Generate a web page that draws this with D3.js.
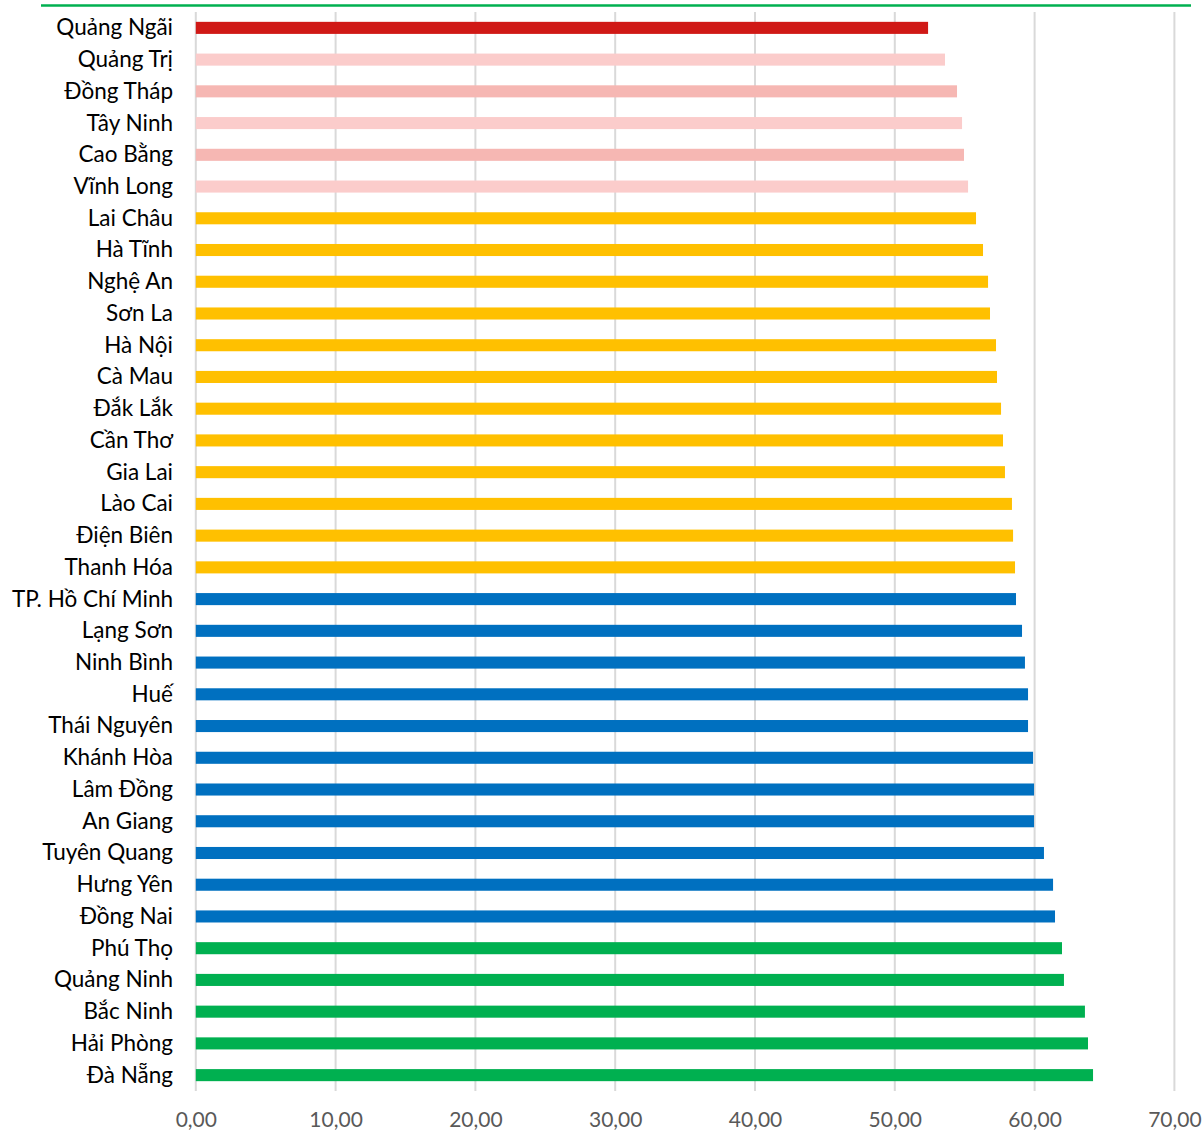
<!DOCTYPE html>
<html><head><meta charset="utf-8">
<script src="https://cdn.jsdelivr.net/npm/d3@7"></script>
<style>body{margin:0;background:#fff}svg{display:block}</style>
</head><body>
<svg id="c" width="1204" height="1131"></svg>
<script>
const categories = ["Quảng Ngãi","Quảng Trị","Đồng Tháp","Tây Ninh","Cao Bằng","Vĩnh Long","Lai Châu","Hà Tĩnh","Nghệ An","Sơn La","Hà Nội","Cà Mau","Đắk Lắk","Cần Thơ","Gia Lai","Lào Cai","Điện Biên","Thanh Hóa","TP. Hồ Chí Minh","Lạng Sơn","Ninh Bình","Huế","Thái Nguyên","Khánh Hòa","Lâm Đồng","An Giang","Tuyên Quang","Hưng Yên","Đồng Nai","Phú Thọ","Quảng Ninh","Bắc Ninh","Hải Phòng","Đà Nẵng"];
const values = [52.38,53.59,54.45,54.81,54.95,55.24,55.81,56.31,56.67,56.81,57.24,57.31,57.60,57.74,57.88,58.38,58.46,58.60,58.67,59.10,59.31,59.53,59.53,59.89,59.96,59.96,60.67,61.32,61.46,61.96,62.10,63.60,63.82,64.18];
const groups = ["red","pinkA","pinkB","pinkA","pinkB","pinkA","yellow","yellow","yellow","yellow","yellow","yellow","yellow","yellow","yellow","yellow","yellow","yellow","blue","blue","blue","blue","blue","blue","blue","blue","blue","blue","blue","green","green","green","green","green"];
const groupColors = {red:"#d01916",pinkA:"#fbcccb",pinkB:"#f6b7b3",yellow:"#ffc000",blue:"#0070c0",green:"#00b050"};
const xTicks = [0,10,20,30,40,50,60,70];

const svg = d3.select("#c");
const x = d3.scaleLinear().domain([0,70]).range([195.8,1174.4]);
const y = d3.scaleBand().domain(categories).range([12,1091]).paddingInner(0.62).paddingOuter(0.31);
const fmt = v => d3.format(".2f")(v).replace(".", ",");

// top green line
svg.append("line").attr("x1",41).attr("x2",1191).attr("y1",5.5).attr("y2",5.5)
  .attr("stroke","#00b050").attr("stroke-width",2.5);

// gridlines
svg.append("g").selectAll("line").data(xTicks).join("line")
  .attr("x1",d=>x(d)).attr("x2",d=>x(d)).attr("y1",12).attr("y2",1091)
  .attr("stroke","#d9d9d9").attr("stroke-width",2);

// bars
svg.append("g").selectAll("rect").data(categories).join("rect")
  .attr("x",x(0)).attr("y",d=>y(d))
  .attr("width",(d,i)=>x(values[i])-x(0))
  .attr("height",y.bandwidth())
  .attr("fill",(d,i)=>groupColors[groups[i]]);

// y labels
const yAxis = d3.axisLeft(y).tickSize(0).tickPadding(0);
const gy = svg.append("g").attr("transform","translate(173,0)").call(yAxis);
gy.select(".domain").remove();
gy.selectAll("text").attr("font-family","Lato, 'Open Sans', sans-serif").attr("font-size",22.5).attr("fill","#000").attr("dy","0.33em");

// x labels
const xAxis = d3.axisBottom(x).tickValues(xTicks).tickFormat(fmt).tickSize(0).tickPadding(0);
const gx = svg.append("g").attr("transform","translate(0,1120)").call(xAxis);
gx.select(".domain").remove();
gx.selectAll("text").attr("font-family","Lato, 'Open Sans', sans-serif").attr("font-size",21).attr("fill","#595959").attr("dy","0.35em");
</script>
</body></html>
